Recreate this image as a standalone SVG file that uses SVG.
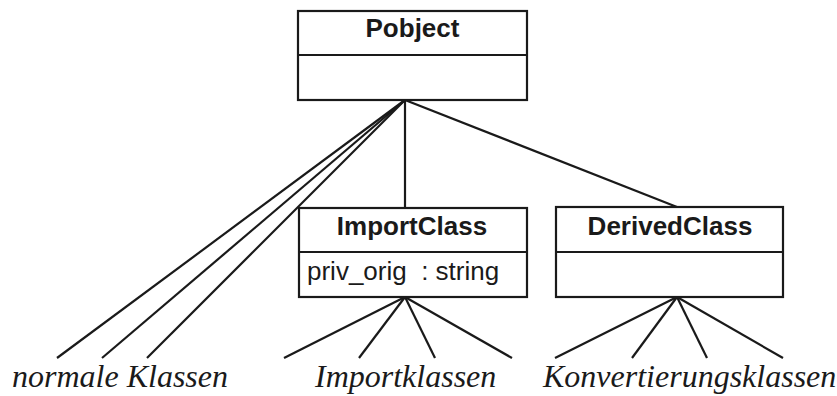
<svg xmlns="http://www.w3.org/2000/svg" width="837" height="396" viewBox="0 0 837 396">
<style>
.box{fill:#fff;stroke:#1a1a1a;stroke-width:2.2}
.ln{stroke:#1a1a1a;stroke-width:2.2;fill:none}
.t{font-family:"Liberation Sans",Arial,sans-serif;font-size:26px;fill:#1a1a1a}
.b{font-weight:bold;text-anchor:middle}
.it{font-family:"Liberation Serif","Times New Roman",serif;font-style:italic;font-size:32px;fill:#1a1a1a}
</style>
<rect width="837" height="396" fill="#fff"/>
<g id="connectors">
<line class="ln" x1="405" y1="100" x2="57" y2="358"/>
<line class="ln" x1="405" y1="100" x2="102" y2="358"/>
<line class="ln" x1="405" y1="100" x2="147" y2="358"/>
<line class="ln" x1="405" y1="100" x2="405" y2="208"/>
<line class="ln" x1="405" y1="100" x2="677" y2="207"/>
<line class="ln" x1="405" y1="297" x2="284" y2="358"/>
<line class="ln" x1="405" y1="297" x2="359" y2="358"/>
<line class="ln" x1="405" y1="297" x2="435" y2="358"/>
<line class="ln" x1="405" y1="297" x2="512" y2="358"/>
<line class="ln" x1="677" y1="297" x2="555" y2="358"/>
<line class="ln" x1="677" y1="297" x2="632" y2="358"/>
<line class="ln" x1="677" y1="297" x2="707" y2="358"/>
<line class="ln" x1="677" y1="297" x2="783" y2="358"/>
</g>
<g id="pobject">
<rect class="box" x="298" y="11" width="229" height="89"/>
<line class="ln" x1="298" y1="55" x2="527" y2="55"/>
<text class="t b" x="412.5" y="37">Pobject</text>
</g>
<g id="importclass">
<rect class="box" x="299" y="208" width="228" height="89"/>
<line class="ln" x1="299" y1="252" x2="527" y2="252"/>
<text class="t b" x="412" y="235">ImportClass</text>
<text class="t" x="307" y="280" xml:space="preserve">priv_orig  : string</text>
</g>
<g id="derivedclass">
<rect class="box" x="556" y="207" width="227" height="90"/>
<line class="ln" x1="556" y1="252" x2="783" y2="252"/>
<text class="t b" x="670" y="235">DerivedClass</text>
</g>
<g id="labels">
<text class="it" x="12" y="387">normale Klassen</text>
<text class="it" x="315" y="387">Importklassen</text>
<text class="it" x="543" y="387">Konvertierungsklassen</text>
</g>
</svg>
